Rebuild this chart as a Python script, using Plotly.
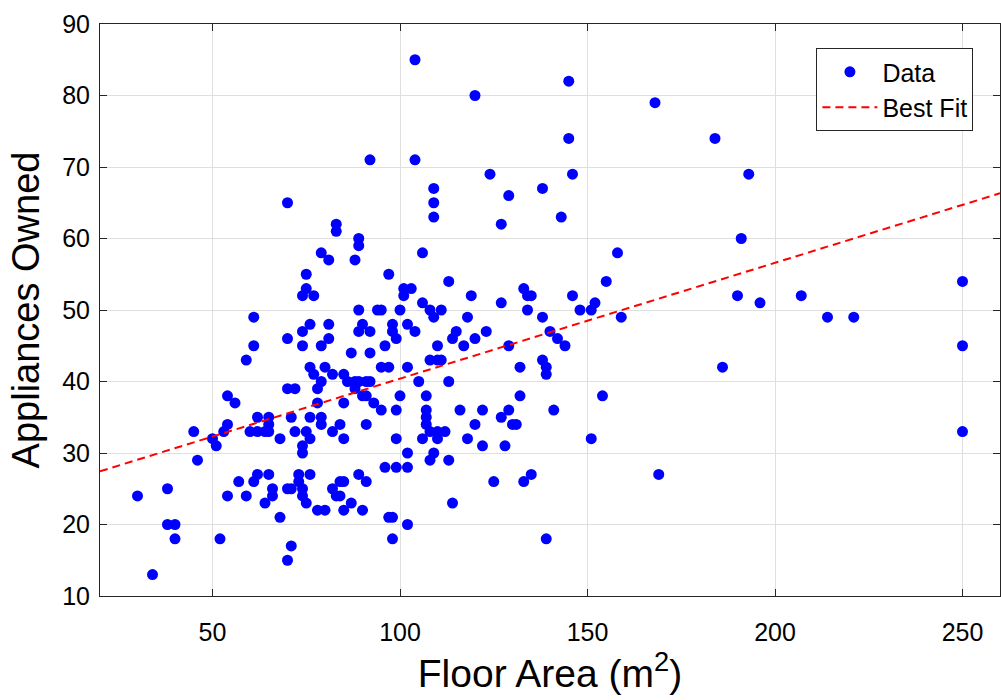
import plotly.graph_objects as go

# Floor area (m^2) and appliances owned
floor_area = [
    30, 34, 38, 38, 40, 40, 45, 46, 50, 51, 52, 53, 54, 54, 54, 56, 57, 59, 59, 60, 61, 61, 61, 62, 62, 62,
    65, 71, 76, 79, 65, 79, 84, 91, 64, 65, 72, 75, 82, 68, 76, 85, 74, 74, 99, 65, 73, 76, 89, 96, 99,
    66, 66, 64, 70, 71, 73, 74, 74, 75, 78, 80, 82, 84, 85, 83, 84, 85, 87, 90, 91, 68, 71, 70, 97, 98, 98,
    70, 83, 83, 89, 89, 79, 81, 88, 75, 97, 75, 74, 77, 89, 94, 95, 76, 81, 90, 74, 89, 92, 98, 98, 99,
    70, 81, 74, 79, 96, 87, 92, 95, 97, 76, 77, 80, 82, 79, 85, 86, 88, 89, 91, 92, 70, 72, 78, 88, 90,
    91, 93, 78, 85, 95, 99, 92,
    100, 100, 109, 109, 127, 106, 113, 101, 103, 101, 119, 127, 133, 134, 135, 106, 108, 111, 109, 134,
    118, 138, 102, 104, 115, 114, 123, 120, 117, 110, 129, 108, 110, 111, 102, 132, 138, 139, 139, 105,
    113, 107, 132, 107, 116, 122, 129, 127, 107,
    107, 120, 130, 131, 106, 108, 110, 112, 110, 118, 122, 128, 102, 109, 108, 113, 102, 125, 133, 135,
    114, 102, 139,
    104, 120, 104, 124, 109, 129, 138,
    145, 168, 145, 146, 143, 158, 155, 146, 152,
    148, 151, 159, 140, 142, 144, 154, 141, 151, 169,
    184, 193, 191, 190, 196, 207, 214, 221, 186, 250, 250, 250,
]
appliances = [
    24, 13, 25, 20, 20, 18, 33, 29, 32, 31, 18, 33, 38, 34, 24, 37, 26, 43, 24, 33, 45, 49, 26, 35, 33, 27,
    35, 35, 35, 35, 34, 34, 34, 34, 33, 33, 33, 33, 33, 32, 32, 32, 31, 30, 32, 27, 27, 27, 27, 28, 28,
    25, 24, 23, 25, 25, 26, 25, 24, 23, 22, 22, 25, 26, 26, 24, 24, 22, 23, 22, 26, 21, 17, 15, 21, 21, 18,
    65, 62, 61, 60, 59, 58, 57, 57, 55, 55, 53, 52, 52, 50, 50, 50, 48, 48, 48, 47, 47, 47, 48, 47, 46,
    46, 46, 45, 45, 45, 44, 44, 42, 42, 42, 41, 42, 41, 40, 41, 40, 40, 40, 40, 40, 39, 39, 39, 39, 38,
    38, 37, 37, 37, 36, 36, 71,
    50, 38, 65, 63, 62, 58, 54, 53, 53, 52, 52, 51, 53, 52, 52, 51, 50, 50, 49, 50,
    49, 49, 48, 47, 47, 46, 47, 46, 45, 45, 45, 43, 43, 43, 42, 42, 43, 42, 41, 40,
    40, 38, 38, 36, 36, 36, 36, 35, 35,
    34, 34, 34, 34, 32, 33, 33, 33, 32, 32, 31, 31, 30, 30, 29, 29, 28, 26, 26, 27,
    23, 20, 18,
    85, 80, 71, 69, 67, 66, 67,
    82, 79, 74, 69, 63, 58, 54, 52, 51,
    50, 50, 49, 47, 46, 45, 38, 36, 32, 27,
    74, 69, 60, 52, 51, 52, 49, 49, 42, 54, 45, 33,
]

# Best-fit line
fit_x = [20, 260]
fit_intercept = 24.2
fit_slope = 0.162
fit_y = [fit_intercept + fit_slope * v for v in fit_x]

FONT = "Liberation Sans, Arial, Helvetica, sans-serif"
AX = "#262626"
GRID = "#dfdfdf"

fig = go.Figure()
fig.add_trace(go.Scatter(
    x=floor_area, y=appliances, mode="markers", name="Data",
    marker=dict(color="#0000ff", size=11, line=dict(width=0)),
))
fig.add_trace(go.Scatter(
    x=fit_x, y=fit_y, mode="lines", name="Best Fit",
    line=dict(color="#ff0000", width=2, dash="8px,5px"),
))

axis_common = dict(
    showgrid=True, gridcolor=GRID, gridwidth=1,
    showline=True, linecolor=AX, linewidth=1, mirror="ticks",
    ticks="inside", ticklen=7, tickcolor=AX, tickwidth=1,
    zeroline=False,
    tickfont=dict(family=FONT, size=25, color="#000000"),
)

fig.update_layout(
    width=1001, height=700,
    margin=dict(l=100, r=1, t=24, b=104),
    paper_bgcolor="white", plot_bgcolor="white",
    font=dict(family=FONT, color="#000000"),
    showlegend=True,
    legend=dict(
        x=0.796, y=0.958, xanchor="left", yanchor="top",
        bgcolor="white", bordercolor=AX, borderwidth=1,
        font=dict(family=FONT, size=25, color="#000000"),
        itemwidth=55, tracegroupgap=0,
    ),
    xaxis=dict(
        range=[20, 260], tickvals=[50, 100, 150, 200, 250],
        ticklabelstandoff=14,
        title=dict(text="Floor Area (m<sup>2</sup>)", font=dict(family=FONT, size=39), standoff=6),
        **axis_common,
    ),
    yaxis=dict(
        range=[10, 90], tickvals=[10, 20, 30, 40, 50, 60, 70, 80, 90],
        ticklabelstandoff=4,
        title=dict(text="Appliances Owned", font=dict(family=FONT, size=38), standoff=10),
        **axis_common,
    ),
)

fig.write_html("out.html")
